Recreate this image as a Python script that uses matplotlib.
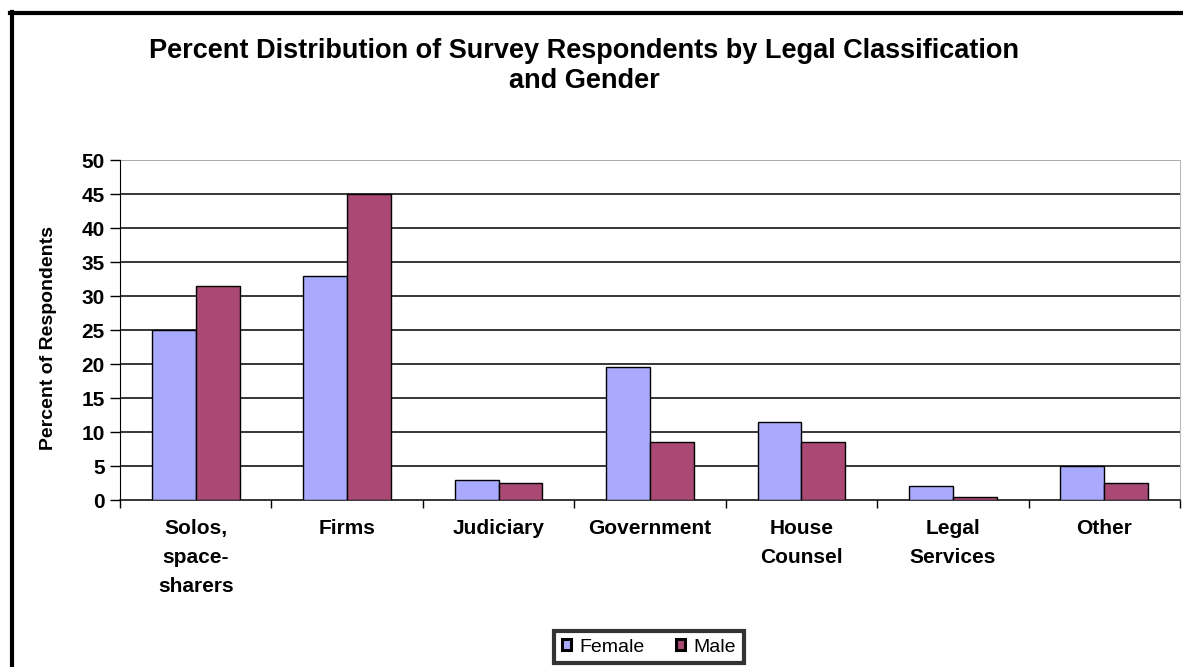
import numpy as np
import matplotlib
matplotlib.use("Agg")
import matplotlib.pyplot as plt
from matplotlib.lines import Line2D
from matplotlib.patches import Patch

categories = ["Solos,\nspace-\nsharers", "Firms", "Judiciary", "Government",
              "House\nCounsel", "Legal\nServices", "Other"]
female = [25, 33, 3, 19.5, 11.5, 2, 5]
male = [31.5, 45, 2.5, 8.5, 8.5, 0.5, 2.5]
y_ticks = [0, 5, 10, 15, 20, 25, 30, 35, 40, 45, 50]

FEMALE_COLOR = "#a9a9fd"
MALE_COLOR = "#a94974"

plt.rcParams["font.family"] = ["Liberation Sans", "DejaVu Sans"]

W, H = 1183, 667
fig = plt.figure(figsize=(W / 100, H / 100), dpi=100)
ax = fig.add_axes([120 / W, (H - 500) / H, 1060 / W, 340 / H])

x = np.arange(len(categories))
bw = 0.29
ax.bar(x - bw / 2, female, bw, color=FEMALE_COLOR, edgecolor="black", linewidth=1, zorder=3, label="Female")
ax.bar(x + bw / 2, male, bw, color=MALE_COLOR, edgecolor="black", linewidth=1, zorder=3, label="Male")

ax.set_xlim(-0.5, len(categories) - 0.5)
ax.set_ylim(0, 50)

# horizontal gridlines
for v in y_ticks[1:-1]:
    ax.axhline(v, color="black", linewidth=1.1, zorder=1)
ax.axhline(50, color="#999999", linewidth=1.2, zorder=1)

ax.spines["top"].set_visible(False)
ax.spines["right"].set_color("#bbbbbb")
ax.spines["left"].set_color("black")
ax.spines["bottom"].set_color("black")
ax.spines["bottom"].set_linewidth(1.1)

ax.set_yticks(y_ticks)
ax.set_yticklabels([str(v) for v in y_ticks], fontsize=15, fontweight="bold")
ax.tick_params(axis="y", length=7, width=1, pad=4)

ax.set_xticks(x)
ax.set_xticklabels(categories, fontsize=15, fontweight="bold", linespacing=1.65, va="top")
ax.tick_params(axis="x", which="major", length=0, pad=14)
ax.set_xticks(np.arange(len(categories) + 1) - 0.5, minor=True)
ax.tick_params(axis="x", which="minor", length=6, width=1, direction="out")

ax.set_ylabel("Percent of Respondents", fontsize=14, fontweight="bold")
ax.yaxis.set_label_coords(-0.059, 0.476)

fig.text(584 / W, 1 - 66 / H,
         "Percent Distribution of Survey Respondents by Legal Classification\nand Gender",
         ha="center", va="center", fontsize=19.5, fontweight="bold", linespacing=1.25)

# legend box with a heavy border
handles = [Patch(facecolor=FEMALE_COLOR, edgecolor="black", linewidth=2.2),
           Patch(facecolor=MALE_COLOR, edgecolor="black", linewidth=2.2)]
leg = fig.legend(handles, ["Female", "Male"], loc="center", bbox_to_anchor=(649 / W, 1 - 647 / H),
                 ncol=2, fontsize=14, frameon=True, fancybox=False, handlelength=0.45,
                 handleheight=0.45, handletextpad=0.45, columnspacing=1.6, borderpad=0.4,
                 borderaxespad=0)
leg.get_frame().set_edgecolor("black")
leg.get_frame().set_linewidth(3)

# outer chart frame
fig.add_artist(Line2D([11.5 / W, 11.5 / W], [1 - 12 / H, 0], color="black", linewidth=3, transform=fig.transFigure))
fig.add_artist(Line2D([10 / W, 1], [1 - 13 / H, 1 - 13 / H], color="black", linewidth=3, transform=fig.transFigure))

fig.savefig("out.png", dpi=100)
